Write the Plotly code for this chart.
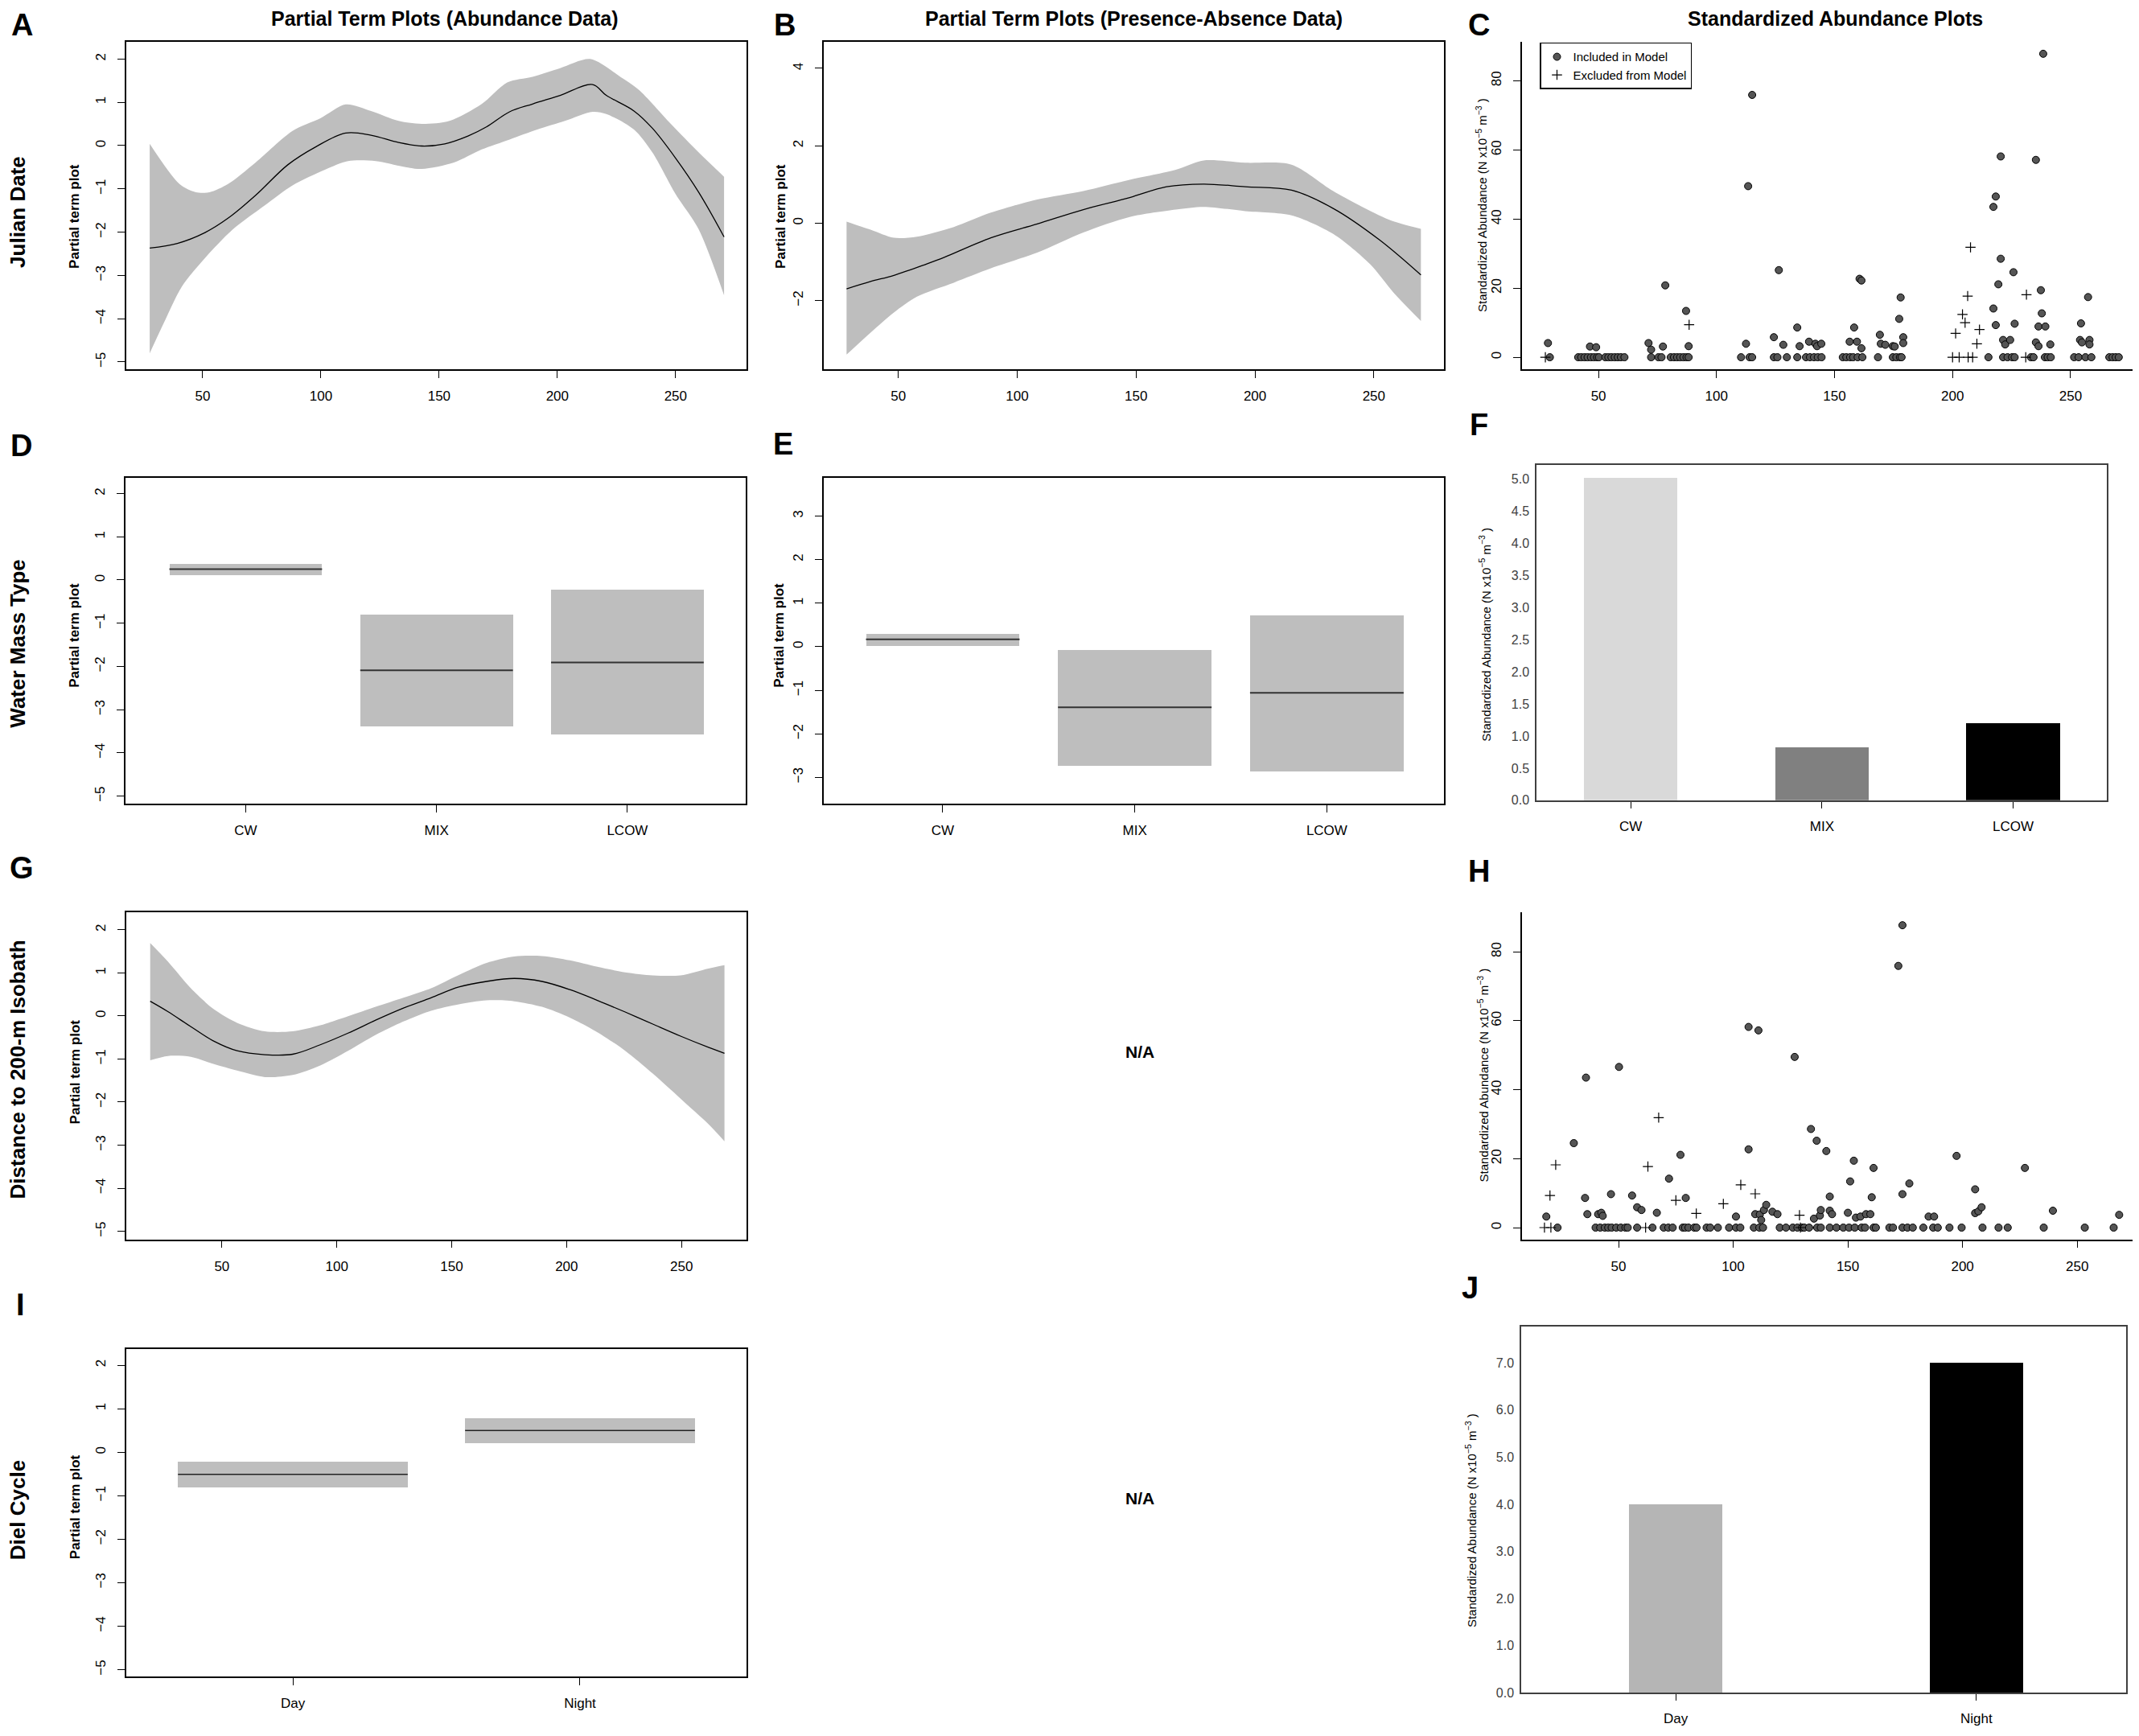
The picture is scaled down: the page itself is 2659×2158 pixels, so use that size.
import plotly.graph_objects as go

W, H = 2659, 2158
FONT = "Liberation Sans, Arial, Helvetica, sans-serif"
BAND = "#bebebe"

# ---------------- data ----------------
# A  Julian date, abundance model
a_fit_x = [27.6, 39.3, 51, 60.7, 72.4, 86.1, 97.8, 110.5, 121.2, 132.9, 142.7, 152.4,
           162.2, 170, 179.8, 189.5, 201.2, 214.9, 220.7, 232.4, 240.2, 250, 259.8, 270.5]
a_fit_y = [-2.37, -2.26, -2.01, -1.68, -1.15, -0.44, -0.03, 0.29, 0.24, 0.07, -0.01, 0.04,
           0.22, 0.43, 0.78, 0.96, 1.16, 1.41, 1.16, 0.80, 0.40, -0.29, -1.08, -2.11]
a_up_x = [27.6, 40.2, 47.1, 52.9, 60.7, 72.4, 88, 99.8, 110.5, 121.2, 132.9, 142.7,
          154.4, 168, 178.8, 189.5, 201.2, 213.9, 226.6, 234.4, 248, 259.8, 270.5]
a_up_y = [0.04, -0.89, -1.08, -1.08, -0.89, -0.39, 0.34, 0.63, 0.95, 0.80, 0.57, 0.50,
          0.57, 0.96, 1.46, 1.59, 1.79, 2.00, 1.59, 1.29, 0.50, -0.16, -0.72]
a_lo_x = [27.6, 33.4, 41.2, 51, 62.7, 76.3, 88, 101.7, 111.5, 123.2, 134.9, 142.7,
          156.3, 168, 179.8, 191.5, 203.2, 214.9, 220.7, 232.4, 240.2, 250, 259.8, 270.5]
a_lo_y = [-4.80, -4.12, -3.26, -2.60, -1.94, -1.38, -0.92, -0.56, -0.36, -0.36, -0.49, -0.54,
          -0.39, -0.09, 0.14, 0.37, 0.57, 0.78, 0.73, 0.37, -0.16, -1.12, -1.94, -3.46]

# B  Julian date, presence-absence model
b_fit_x = [28.2, 38.3, 48.1, 61.7, 69.5, 88.9, 108.4, 127.8, 147.3, 162.8, 178.4, 195.9,
           215.4, 232.9, 252.3, 269.8]
b_fit_y = [-1.70, -1.51, -1.35, -1.06, -0.88, -0.38, -0.02, 0.35, 0.66, 0.94, 1.01, 0.94,
           0.85, 0.38, -0.43, -1.34]
b_up_x = [28.2, 38.3, 48.1, 57.8, 73.3, 88.9, 108.4, 127.8, 147.3, 166.7, 178.4, 195.9,
          215.4, 232.9, 256.3, 269.8]
b_up_y = [0.04, -0.17, -0.38, -0.35, -0.10, 0.27, 0.61, 0.83, 1.12, 1.38, 1.62, 1.56,
          1.51, 0.83, 0.09, -0.15]
b_lo_x = [28.2, 38.3, 48.1, 57.8, 73.3, 88.9, 108.4, 127.8, 147.3, 166.7, 178.4, 195.9,
          215.4, 232.9, 248.4, 258.2, 269.8]
b_lo_y = [-3.40, -2.83, -2.31, -1.90, -1.54, -1.17, -0.76, -0.24, 0.16, 0.35, 0.42, 0.31,
          0.20, -0.28, -1.06, -1.79, -2.53]

# C  standardized abundance vs Julian date
c_inc_x = [28.6, 29.4, 41.4, 42.7, 44.1, 45.4, 46.8, 48.1, 49.4, 50.2, 46.4, 49.0,
           52.9, 54.2, 55.5, 56.9, 58.2, 59.5, 61.0, 71.2, 72.3, 72.3, 75.4, 76.7, 77.3, 78.3,
           80.6, 82.0, 83.3, 84.6, 86.0, 87.3, 88.2, 87.1, 88.2,
           110.4, 112.5, 113.4, 114.0, 115.1, 115.1, 124.3, 124.3, 125.8, 126.4, 128.3, 129.8,
           134.2, 134.2, 135.2, 137.9, 139.6, 141.3, 142.9, 144.5, 139.2, 141.9, 142.6, 144.4,
           153.5, 155.0, 156.6, 157.9, 159.8, 161.8, 156.4, 158.3, 159.5, 160.6, 161.4, 161.4,
           168.4, 169.2, 169.6, 171.5, 174.7, 175.5, 174.7, 176.2, 177.7, 178.4,
           177.4, 178.0, 179.1, 179.1,
           215.2, 217.3, 217.3, 218.3, 218.3, 219.4, 220.4, 220.4, 221.4, 222.3, 224.4, 225.8, 226.3,
           221.4, 223.3, 225.2, 226.3,
           233.2, 234.3, 235.3, 235.3, 236.4, 236.4, 237.4, 237.8, 238.4, 239.3, 241.4,
           239.1, 240.3, 241.6,
           251.5, 253.4, 254.0, 254.4, 254.8, 257.4, 258.0, 258.0, 256.3, 258.8,
           266.4, 267.8, 269.1, 270.4]
c_inc_y = [4.1, 0, 0, 0, 0, 0, 0, 0, 0, 0, 3.1, 2.9,
           0, 0, 0, 0, 0, 0, 0, 4.1, 2.2, 0, 0, 0, 3.1, 20.8,
           0, 0, 0, 0, 0, 0, 0, 13.4, 3.2,
           0, 3.9, 49.5, 0, 0, 75.9, 5.8, 0, 0, 25.2, 3.6, 0,
           8.6, 0, 3.2, 0, 0, 0, 0, 0, 4.5, 3.9, 3.2, 3.9,
           0, 0, 0, 0, 0, 0, 4.5, 8.6, 4.5, 22.7, 22.2, 2.6,
           0, 6.5, 3.9, 3.6, 3.2, 3.1, 0, 0, 0, 0,
           11.1, 17.3, 5.8, 4.1,
           0, 14.1, 43.5, 46.5, 9.3, 21.1, 58.1, 28.5, 5.0, 3.7, 5.0, 24.6, 9.7,
           0, 0, 0, 0,
           0, 0, 57.1, 4.3, 3.2, 8.9, 19.4, 12.7, 87.8, 8.9, 3.7,
           0, 0, 0,
           0, 0, 5.0, 9.8, 4.3, 17.4, 5.0, 3.7, 0, 0,
           0, 0, 0, 0]
c_exc_x = [27.5, 88.4, 201.3, 204.2, 205.3, 206.4, 207.6, 210.3, 211.4, 231.3,
           200.0, 202.8, 206.6, 208.5, 231.0]
c_exc_y = [0, 9.4, 6.9, 12.4, 10.0, 17.7, 31.8, 3.9, 8.0, 18.1,
           0, 0, 0, 0, 0]

# D / E  water mass type (categorical partial terms)
wm_cats = ["CW", "MIX", "LCOW"]
d_fit = [0.25, -2.09, -1.91]
d_up = [0.385, -0.79, -0.22]
d_lo = [0.128, -3.37, -3.57]
e_fit = [0.167, -1.39, -1.06]
e_up = [0.30, -0.065, 0.72]
e_lo = [0.03, -2.72, -2.85]

# F  standardized abundance by water mass
f_vals = [5.02, 0.83, 1.21]

# G  distance to 200-m isobath
g_fit_x = [18.8, 26.5, 36.5, 46.6, 56.6, 68.7, 80.8, 92.8, 104.9, 116.9, 129, 141, 153.1,
           165.2, 177.2, 189.3, 201.4, 213.4, 225.5, 237.5, 249.6, 261.7, 268.7]
g_fit_y = [0.34, 0.10, -0.25, -0.59, -0.81, -0.90, -0.89, -0.67, -0.40, -0.10, 0.18, 0.42, 0.67,
           0.80, 0.87, 0.80, 0.61, 0.36, 0.09, -0.19, -0.47, -0.73, -0.87]
g_up_y = [1.69, 1.26, 0.64, 0.15, -0.16, -0.36, -0.36, -0.22, -0.01, 0.21, 0.42, 0.64, 0.95,
          1.23, 1.38, 1.39, 1.29, 1.14, 1.01, 0.94, 0.94, 1.10, 1.18]
g_lo_y = [-1.03, -0.93, -0.95, -1.12, -1.27, -1.42, -1.37, -1.15, -0.81, -0.44, -0.13, 0.12, 0.27,
          0.36, 0.34, 0.21, -0.04, -0.38, -0.81, -1.34, -1.92, -2.51, -2.91]

# H  standardized abundance vs distance
h_inc_x = [18.5, 23.4, 30.5, 35.4, 35.8, 36.4,
           40, 42, 44, 45.5, 47, 49, 51, 53, 54,
           41.1, 42.5, 43.1, 46.7, 50.2, 55.9, 58.1, 60.0, 58.1,
           64.8, 66.7, 69.7, 71.7, 73.6, 72.0, 77.0, 79.3,
           78, 79, 80.5, 83, 84, 88.4, 90, 93.3, 98.2, 101.2, 103.1,
           101.2, 106.7, 106.7, 111.0, 109.6, 111.6, 112.2, 113.4, 114.4,
           109, 111.4, 113, 117.1, 119.3,
           120.3, 123, 126, 128, 130, 131, 126.8,
           133.1, 133.9, 135.2, 136.4, 137.8, 138.2, 136.6, 138.2,
           140.6, 142.1, 142.1, 143.1,
           142.1, 145, 148, 150.5, 153, 156, 157.5,
           150.0, 151.0, 152.6, 153.5, 155.5, 157.9, 159.8, 160.4, 161.2,
           161.2, 162.2, 168.1, 169.7,
           172.0, 173.8, 173.8, 176.8, 173.8, 176, 178.3, 182.9,
           185.2, 187.6, 187.2, 189.2, 194.3, 199.6, 197.4,
           205.5, 205.5, 206.9, 208.3, 208.7, 215.7, 219.7,
           227.2, 235.4, 239.4, 253.3, 265.9, 268.3]
h_inc_y = [3.2, 0, 24.5, 8.6, 43.5, 3.9,
           0, 0, 0, 0, 0, 0, 0, 0, 0,
           3.9, 4.3, 3.4, 9.7, 46.6, 9.3, 5.9, 5.1, 0,
           0, 4.3, 0, 0, 0, 14.2, 21.1, 8.6,
           0, 0, 0, 0, 0, 0, 0, 0, 0, 0, 0,
           3.2, 58.2, 22.7, 57.2, 3.9, 3.8, 2.2, 5.1, 6.6,
           0, 0, 0, 4.6, 3.9,
           0, 0, 0, 0, 0, 0, 49.5,
           0, 28.6, 2.6, 25.2, 3.5, 5.1, 0, 0,
           22.2, 9.0, 4.9, 3.9,
           0, 0, 0, 0, 0, 0, 0,
           4.3, 13.4, 19.4, 2.9, 3.2, 3.9, 3.9, 8.8, 17.3,
           0, 0, 0, 0,
           75.9, 87.7, 9.7, 12.8, 0, 0, 0, 0,
           3.2, 3.2, 0, 0, 0, 0, 20.8,
           11.1, 4.2, 4.7, 5.9, 0, 0, 0,
           17.3, 0, 4.9, 0, 0, 3.7]
h_exc_x = [17.7, 20.1, 20.5, 22.6, 62.8, 61.8, 67.5, 75.0, 83.9, 95.7, 103.3, 109.6, 128.9, 129.3]
h_exc_y = [0, 9.3, 0, 18.2, 17.7, 0, 31.9, 7.9, 4.1, 6.9, 12.4, 9.8, 3.6, 0]

# I / J  diel cycle
diel_cats = ["Day", "Night"]
i_fit = [-0.51, 0.50]
i_up = [-0.225, 0.78]
i_lo = [-0.815, 0.215]
j_vals = [4.0, 7.0]

# ---------------- layout helpers ----------------
# plot-box pixel positions (left, right, top, bottom)
boxes = {1: (149, 920, 44, 453), 2: (1016, 1787, 44, 453), 3: (1884, 2654, 44, 453),
         4: (148, 919, 588, 995), 5: (1016, 1787, 588, 995), 6: (1902, 2611, 572, 991),
         7: (149, 920, 1131, 1539), 8: (1884, 2654, 1131, 1539),
         9: (149, 920, 1676, 2085), 10: (1883, 2635, 1648, 2105)}


def names(n):
    if n == 1:
        return "x", "y"
    return "x%d" % n, "y%d" % n


fig = go.Figure()


def add_band(n, xu, yu, xl, yl):
    # lower edge first, upper edge filled down to it
    xa, ya = names(n)
    fig.add_trace(go.Scatter(x=xl, y=yl, mode="lines",
                             line=dict(width=0, color=BAND, shape="spline", smoothing=0.8),
                             hoverinfo="skip", showlegend=False, xaxis=xa, yaxis=ya))
    fig.add_trace(go.Scatter(x=xu, y=yu, mode="lines", fill="tonexty", fillcolor=BAND,
                             line=dict(width=0, color=BAND, shape="spline", smoothing=0.8),
                             hoverinfo="skip", showlegend=False, xaxis=xa, yaxis=ya))


def add_line(n, x, y, color="black", width=1.3, shape="linear"):
    xa, ya = names(n)
    fig.add_trace(go.Scatter(x=x, y=y, mode="lines",
                             line=dict(color=color, width=width, shape=shape),
                             showlegend=False, xaxis=xa, yaxis=ya))


def add_factor(n, fit, up, lo, half=0.4, color="#333333", width=2):
    xa, ya = names(n)
    pos = list(range(1, len(fit) + 1))
    fig.add_trace(go.Bar(x=pos, base=lo, y=[u - l for u, l in zip(up, lo)], width=2 * half,
                         marker=dict(color=BAND, line=dict(width=0)), showlegend=False,
                         xaxis=xa, yaxis=ya))
    lx, ly = [], []
    for p, f in zip(pos, fit):
        lx += [p - half, p + half, None]
        ly += [f, f, None]
    add_line(n, lx, ly, color=color, width=width)


def add_points(n, xi, yi, xe, ye, legend=False):
    xa, ya = names(n)
    fig.add_trace(go.Scatter(x=xi, y=yi, mode="markers", name="Included in Model",
                             marker=dict(symbol="circle", size=9, color="#555555",
                                         line=dict(color="black", width=1)),
                             showlegend=legend, xaxis=xa, yaxis=ya))
    fig.add_trace(go.Scatter(x=xe, y=ye, mode="markers", name="Excluded from Model",
                             marker=dict(symbol="cross-thin", size=9,
                                         line=dict(color="black", width=1.2)),
                             showlegend=legend, xaxis=xa, yaxis=ya))


# A
add_band(1, a_up_x, a_up_y, a_lo_x, a_lo_y)
add_line(1, a_fit_x, a_fit_y, shape="spline")
# B
add_band(2, b_up_x, b_up_y, b_lo_x, b_lo_y)
add_line(2, b_fit_x, b_fit_y, shape="spline")
# C
add_points(3, c_inc_x, c_inc_y, c_exc_x, c_exc_y, legend=True)
# D, E
add_factor(4, d_fit, d_up, d_lo)
add_factor(5, e_fit, e_up, e_lo)
# F
fig.add_trace(go.Bar(x=wm_cats, y=f_vals, width=0.49,
                     marker=dict(color=["#d9d9d9", "#808080", "#000000"], line=dict(width=0)),
                     showlegend=False, xaxis="x6", yaxis="y6"))
# G
add_band(7, g_fit_x, g_up_y, g_fit_x, g_lo_y)
add_line(7, g_fit_x, g_fit_y, shape="spline")
# H
add_points(8, h_inc_x, h_inc_y, h_exc_x, h_exc_y)
# I
add_factor(9, i_fit, i_up, i_lo, color="#222222", width=1.5)
# J
fig.add_trace(go.Bar(x=diel_cats, y=j_vals, width=0.31,
                     marker=dict(color=["#b5b5b5", "#000000"], line=dict(width=0)),
                     showlegend=False, xaxis="x10", yaxis="y10"))

tick_font = dict(family=FONT, size=17, color="black")
base_axis = dict(showgrid=False, zeroline=False, showline=True, linecolor="black",
                 linewidth=1.5, ticks="outside", ticklen=9, tickwidth=1.3,
                 tickcolor="black", tickfont=tick_font)

xranges = {1: [17.7, 280], 2: [18.6, 279.5], 3: [17.6, 280], 4: [0.37, 3.62],
           5: [0.38, 3.61], 6: [-0.493, 2.49], 7: [8.4, 278.3], 8: [7.9, 278],
           9: [0.42, 2.58], 10: [-0.514, 1.498]}
yranges = {1: [-5.17, 2.40], 2: [-3.78, 4.69], 3: [-3.5, 91.3], 4: [-5.17, 2.37],
           5: [-3.60, 3.885], 6: [0, 5.22], 7: [-5.185, 2.40], 8: [-3.4, 91.4],
           9: [-5.16, 2.37], 10: [0, 7.77]}

layout = {}
for n, (l, r, t, b) in boxes.items():
    xa, ya = names(n)
    xkey = "xaxis" if n == 1 else "xaxis%d" % n
    ykey = "yaxis" if n == 1 else "yaxis%d" % n
    xd = dict(base_axis, domain=[l / W, r / W], anchor=ya, range=xranges[n],
              ticklabelstandoff=8)
    yd = dict(base_axis, domain=[1 - b / H, 1 - t / H], anchor=xa, range=yranges[n],
              tickangle=-90, ticklabelstandoff=8)
    mirror = n not in (3, 8)
    xd["mirror"] = mirror
    yd["mirror"] = mirror
    if n in (1, 2, 3, 7, 8):
        xd["tickvals"] = [50, 100, 150, 200, 250]
    if n in (1, 4, 5, 7, 9):
        yd["dtick"] = 1
    if n == 2:
        yd["tickvals"] = [-2, 0, 2, 4]
    if n in (3, 8):
        yd["tickvals"] = [0, 20, 40, 60, 80]
    if n in (4, 5):
        xd["tickvals"] = [1, 2, 3]
        xd["ticktext"] = wm_cats
    if n == 9:
        xd["tickvals"] = [1, 2]
        xd["ticktext"] = diel_cats
    if n in (6, 10):
        xd.update(linecolor="#404040", ticklen=8)
        yd.update(linecolor="#404040", ticks="", tickangle=0, ticklabelstandoff=4,
                  tickformat=".1f", dtick=0.5 if n == 6 else 1,
                  tickfont=dict(family=FONT, size=16, color="#404040"))
    layout[xkey] = xd
    layout[ykey] = yd

fig.update_layout(**layout)

# ---------------- text ----------------
ann = []


def text(x, y, s, size, bold=False, angle=0, color="black"):
    ann.append(dict(x=x / W, y=1 - y / H, xref="paper", yref="paper", text=s,
                    showarrow=False, textangle=angle, xanchor="center", yanchor="middle",
                    font=dict(family=FONT, size=size, color=color,
                              weight="bold" if bold else "normal")))


text(545, 15, "Partial Term Plots (Abundance Data)", 25, True)
text(1401, 15, "Partial Term Plots (Presence-Absence Data)", 25, True)
text(2273, 15, "Standardized Abundance Plots", 25, True)

for s, x, y in [("A", 19, 23), ("B", 967, 23), ("C", 1830, 23), ("D", 18, 548),
                ("E", 965, 546), ("F", 1830, 522), ("G", 19, 1075), ("H", 1830, 1079),
                ("I", 17, 1621), ("J", 1819, 1600)]:
    text(x, y, s, 38, True)

for s, y in [("Julian Date", 257), ("Water Mass Type", 795),
             ("Distance to 200-m Isobath", 1327), ("Diel Cycle", 1877)]:
    text(14, y, s, 26, True, angle=-90)

for x, y in [(85, 262), (963, 262), (85, 785), (961, 785), (85, 1330), (85, 1873)]:
    text(x, y, "Partial term plot", 17, True, angle=-90)

ylab = "Standardized Abundance (N x10<sup>\u22125</sup> m<sup>\u22123</sup> )"
for x, y in [(1834, 248), (1838, 784), (1835, 1334), (1820, 1890)]:
    text(x, y, ylab, 15, angle=-90)

text(1409, 1305, "N/A", 21, True)
text(1409, 1862, "N/A", 21, True)

fig.update_layout(
    annotations=ann,
    width=W, height=H,
    margin=dict(l=0, r=0, t=0, b=0),
    paper_bgcolor="white", plot_bgcolor="white",
    bargap=0,
    legend=dict(x=1906 / W, y=1 - 45 / H, xanchor="left", yanchor="top",
                traceorder="normal",
                bordercolor="black", borderwidth=1.5, bgcolor="white",
                font=dict(family=FONT, size=15, color="black"), tracegroupgap=2),
)

fig.write_html("out.html")
